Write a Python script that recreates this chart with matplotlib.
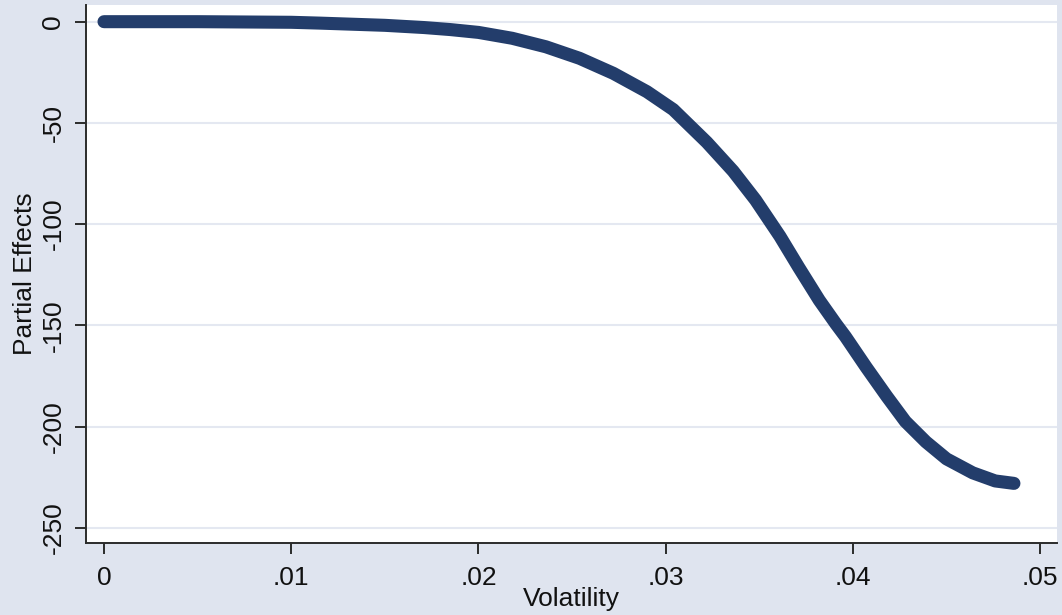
import numpy as np
import matplotlib.pyplot as plt

# values
volatility = [0.0, 0.005, 0.0100, 0.0115, 0.0150, 0.0171, 0.0185, 0.0200,
              0.0218, 0.0236, 0.0254, 0.0272, 0.0290, 0.0304, 0.0322, 0.0336,
              0.0348, 0.0361, 0.0371, 0.0382, 0.0391, 0.0396, 0.0407, 0.0418,
              0.0428, 0.0439, 0.0450, 0.0464, 0.0476, 0.0486]
partial_effects = [0.0, 0.0, -0.3, -0.7, -1.8, -2.9, -3.9, -5.3,
                   -8.2, -12.4, -18.1, -25.5, -34.6, -43.4, -59.6, -73.8,
                   -88.1, -106.0, -121.3, -137.6, -149.4, -155.6, -170.6, -185.0,
                   -197.5, -207.6, -216.0, -222.9, -226.9, -228.1]

x_ticks = [0, 0.01, 0.02, 0.03, 0.04, 0.05]
x_labels = ["0", ".01", ".02", ".03", ".04", ".05"]
y_ticks = [0, -50, -100, -150, -200, -250]

bg = '#dfe4ef'
navy = '#233d6b'
plt.rcParams['font.family'] = ['Liberation Sans', 'DejaVu Sans']

fig = plt.figure(figsize=(10.62, 6.15), dpi=100, facecolor=bg)
ax = fig.add_axes([0.081, 0.1166, 0.9143, 0.8753])
ax.set_facecolor('white')

ax.plot(volatility, partial_effects, color=navy, lw=9.4,
        solid_capstyle='round', solid_joinstyle='round', zorder=3)

ax.set_xlim(-0.00096, 0.0509)
ax.set_ylim(-257.7, 8.25)
ax.set_xticks(x_ticks)
ax.set_xticklabels(x_labels)
ax.set_yticks(y_ticks)
ax.set_yticklabels([str(v) for v in y_ticks], rotation=90, va='center')

ax.grid(axis='y', color='#e4e8f1', lw=1.5, zorder=0)
ax.grid(axis='x', visible=False)

for s in ['top', 'right']:
    ax.spines[s].set_visible(False)
for s in ['left', 'bottom']:
    ax.spines[s].set_color('#2b2b2b')
    ax.spines[s].set_linewidth(1.4)

ax.tick_params(axis='both', direction='out', length=7.8, width=1.4,
               color='#2b2b2b', labelsize=19, labelcolor='#111111')
ax.tick_params(axis='y', pad=7)
ax.tick_params(axis='x', pad=8.5)

ax.set_xlabel("Volatility", fontsize=19, labelpad=-2, color='#111111')
ax.set_ylabel("Partial Effects", fontsize=19, labelpad=3, color='#111111')

fig.savefig('out.png', dpi=100, facecolor=bg)
